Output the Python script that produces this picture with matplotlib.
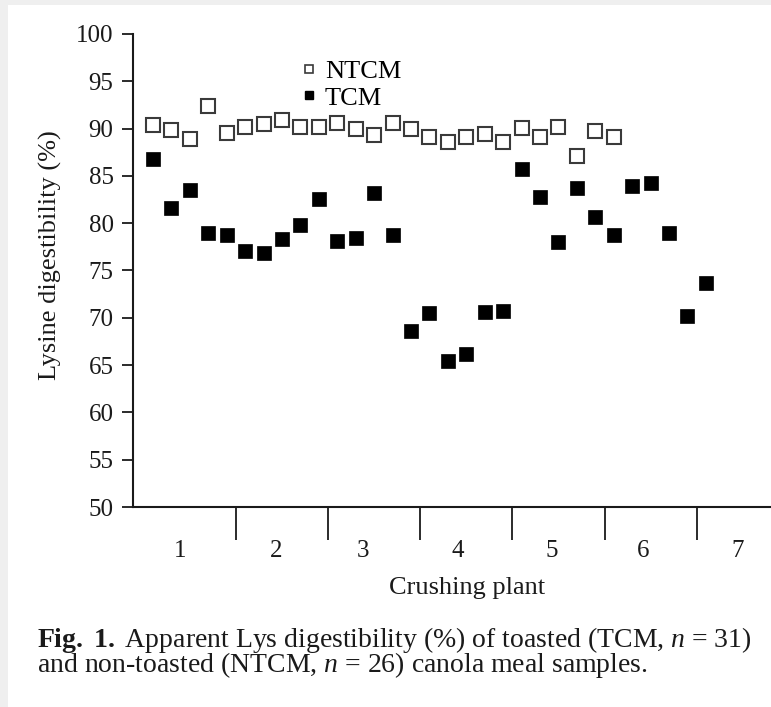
import matplotlib
matplotlib.use('Agg')
import matplotlib.pyplot as plt
from matplotlib.patches import Rectangle
from matplotlib.lines import Line2D

plt.rcParams['font.family'] = ['Liberation Serif', 'DejaVu Serif']
plt.rcParams['mathtext.fontset'] = 'custom'
plt.rcParams['mathtext.rm'] = 'Liberation Serif'
plt.rcParams['mathtext.it'] = 'Liberation Serif:italic'
plt.rcParams['mathtext.bf'] = 'Liberation Serif:bold'

# samples in order along the x axis (5 per crushing plant)
ntcm = [90.4, 89.8, 88.9, 92.4, 89.5, 90.2, 90.5, 90.9, 90.2, 90.2,
        90.6, 90.0, 89.3, 90.6, 90.0, 89.1, 88.6, 89.1, 89.4, 88.6,
        90.1, 89.1, 90.2, 87.1, 89.7, 89.1]
tcm = [86.8, 81.6, 83.5, 79.0, 78.7, 77.1, 76.9, 78.3, 79.8, 82.6,
       78.1, 78.4, 83.2, 78.7, 68.6, 70.5, 65.4, 66.2, 70.6, 70.7,
       85.7, 82.8, 78.0, 83.7, 80.7, 78.8, 83.9, 84.3, 79.0, 70.2,
       73.7]
x_ntcm = list(range(1, len(ntcm) + 1))
x_tcm = list(range(1, len(tcm) + 1))

plants = ['1', '2', '3', '4', '5', '6', '7']
plant_label_pos = [2.46, 7.67, 12.39, 17.55, 22.65, 27.59, 32.74]
plant_bounds = [5.5, 10.5, 15.5, 20.5, 25.5, 30.5]

ink = '#1a1a1a'

fig = plt.figure(figsize=(7.71, 7.07), dpi=100, facecolor='#efefef')
fig.patches.append(Rectangle((8 / 771, 0), 1, 1 - 5 / 707, transform=fig.transFigure,
                             facecolor='white', edgecolor='none', zorder=-10))

ax = fig.add_axes([133 / 771, 200 / 707, 638 / 771, 473 / 707])
ax.set_facecolor('none')

ax.plot(x_ntcm, ntcm, ls='none', marker='s', ms=9.5, mfc='white', mec='#3a3a3a', mew=1.5)
ax.plot(x_tcm, tcm, ls='none', marker='s', ms=10, mfc='black', mec='black', mew=0.5)

ax.set_xlim(1 - 20 / 18.43, 1 + 618 / 18.43)
ax.set_ylim(50, 100)
ax.set_yticks(range(50, 101, 5))

for s in ['top', 'right']:
    ax.spines[s].set_visible(False)
for s in ['left', 'bottom']:
    ax.spines[s].set_linewidth(1.5)
    ax.spines[s].set_color(ink)

ax.tick_params(axis='y', direction='out', length=8, width=1.3, pad=6,
               labelsize=18, colors=ink)
ax.set_xticks(plant_bounds)
ax.set_xticklabels([])
ax.tick_params(axis='x', which='major', direction='out', length=24, width=1.3, color=ink)
ax.set_xticks(plant_label_pos, minor=True)
ax.set_xticklabels(plants, minor=True)
ax.tick_params(axis='x', which='minor', length=0, pad=24, labelsize=18, labelcolor=ink)

fig.text(50 / 771, 1 - 255 / 707, 'Lysine digestibility (%)', rotation=90,
         ha='center', va='center', fontsize=19, color=ink)
fig.text(467 / 771, 1 - 588 / 707, 'Crushing plant', ha='center', va='center',
         fontsize=19, color=ink)

handles = [Line2D([], [], ls='none', marker='s', ms=5.5, mfc='white', mec='#3a3a3a', mew=1.2),
           Line2D([], [], ls='none', marker='s', ms=5.5, mfc='black', mec='black')]
ax.legend(handles, ['NTCM', 'TCM'], loc='upper left', bbox_to_anchor=(301 / 771, 1 - 60 / 707),
          bbox_transform=fig.transFigure, frameon=False, fontsize=19, handlelength=0.6,
          handletextpad=0.3, labelspacing=0.1, borderpad=0, borderaxespad=0)

caption = (r'$\mathbf{Fig.\ 1.}$ Apparent Lys digestibility (%) of toasted (TCM, $n$ = 31)'
           '\n'
           r'and non-toasted (NTCM, $n$ = 26) canola meal samples.')
fig.text(37 / 771, 1 - 680 / 707, caption, ha='left', va='bottom', fontsize=20,
         color=ink, linespacing=0.76)

fig.savefig('out.png', dpi=100, facecolor=fig.get_facecolor())
